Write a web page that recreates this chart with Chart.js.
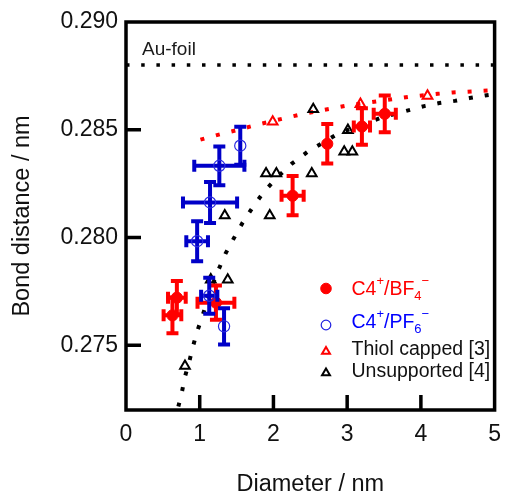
<!DOCTYPE html>
<html>
<head>
<meta charset="utf-8">
<script src="https://cdn.jsdelivr.net/npm/chart.js@4.4.0/dist/chart.umd.min.js"></script>
<style>
  body { margin: 0; background: #fff; }
</style>
</head>
<body>
<canvas id="myChart" width="512" height="494"></canvas>
<script>
// values

// C4+/BF4- (filled red circles)
var bf4_x     = [0.63, 0.69, 1.22, 2.26, 2.73, 3.20, 3.51];
var bf4_y     = [0.27639, 0.27721, 0.27698, 0.28194, 0.28435, 0.28515, 0.28574];
var bf4_x_err = [0.12, 0.12, 0.25, 0.15, 0, 0.11, 0.15];
var bf4_y_err = [0.00083, 0.00077, 0.00079, 0.00091, 0.00092, 0.00085, 0.00085];

// C4+/PF6- (open blue circles)
var pf6_x     = [1.55, 1.266, 1.14, 0.965, 1.129, 1.33];
var pf6_y     = [0.28426, 0.28333, 0.28163, 0.27983, 0.27730, 0.27588];
var pf6_x_err = [0, 0.34, 0.367, 0.147, 0.11, 0];
var pf6_y_err = [0.00088, 0.0009, 0.00095, 0.00093, 0.00084, 0.00084];

// Thiol capped [3]
var thiol_x = [1.99, 3.18, 4.09];
var thiol_y = [0.28537, 0.28619, 0.28657];

// Unsupported [4]
var unsup_x = [0.80, 1.15, 1.34, 1.38, 1.90, 1.95, 2.04, 2.52, 2.54, 2.96, 3.07, 3.01];
var unsup_y = [0.27404, 0.27805, 0.28102, 0.27804, 0.28297, 0.28102, 0.28297, 0.28297, 0.28595, 0.28398, 0.28398, 0.28498];

// dotted guide curves
var red_fit_x = [1.01, 1.22, 1.43, 1.82, 2.23, 2.41, 2.81, 3.01, 3.64, 3.84, 4.23, 4.43, 4.84, 5.0];
var red_fit_y = [0.28454, 0.28474, 0.28492, 0.28527, 0.28560, 0.28574, 0.28600, 0.28613, 0.28643, 0.28653, 0.28667, 0.28673, 0.28681, 0.28684];

var black_fit_x = [0.71, 0.76, 0.80, 0.86, 0.91, 0.97, 1.04, 1.11, 1.18, 1.26, 1.35, 1.46, 1.58, 1.72, 1.87, 2.05,
                   2.25, 2.46, 2.66, 2.85, 3.05, 3.26, 3.47, 3.65, 3.86, 4.06, 4.25, 4.46, 4.66, 4.87, 5.0];
var black_fit_y = [0.27216, 0.27286, 0.27355, 0.27427, 0.27497, 0.27569, 0.27640, 0.27713, 0.27787, 0.27855, 0.27926,
                   0.27995, 0.28068, 0.28141, 0.28212, 0.28279, 0.28343, 0.28397, 0.28438, 0.28477, 0.28505, 0.28531,
                   0.28557, 0.28574, 0.28593, 0.28611, 0.28624, 0.28634, 0.28647, 0.28659, 0.28665];

// Au-foil reference
var au_x = [0, 5];
var au_y = [0.288, 0.288];

var x_ticks = [0, 1, 2, 3, 4, 5];
var y_ticks = [0.275, 0.280, 0.285, 0.290];

var FONT = '"Liberation Sans", Arial, Helvetica, sans-serif';

function pts(xs, ys) {
    return xs.map(function (v, i) { return {x: v, y: ys[i]}; });
}

// error bars, drawn just before the points of their dataset
var errorBars = {
    id: 'errorBars',
    beforeDatasetDraw: function (chart, args) {
        var ds = chart.data.datasets[args.index];
        if (!ds.xErr) return;
        var ctx = chart.ctx, sx = chart.scales.x, sy = chart.scales.y;
        var cap = 6;
        ctx.save();
        ctx.strokeStyle = ds.barColor;
        ctx.lineWidth = 4;
        ds.data.forEach(function (p, i) {
            var px = sx.getPixelForValue(p.x), py = sy.getPixelForValue(p.y);
            ctx.beginPath();
            if (ds.yErr[i]) {
                var t = sy.getPixelForValue(p.y + ds.yErr[i]);
                var b = sy.getPixelForValue(p.y - ds.yErr[i]);
                ctx.moveTo(px, t); ctx.lineTo(px, b);
                ctx.moveTo(px - cap, t); ctx.lineTo(px + cap, t);
                ctx.moveTo(px - cap, b); ctx.lineTo(px + cap, b);
            }
            if (ds.xErr[i]) {
                var l = sx.getPixelForValue(p.x - ds.xErr[i]);
                var r = sx.getPixelForValue(p.x + ds.xErr[i]);
                ctx.moveTo(l, py); ctx.lineTo(r, py);
                ctx.moveTo(l, py - cap); ctx.lineTo(l, py + cap);
                ctx.moveTo(r, py - cap); ctx.lineTo(r, py + cap);
            }
            ctx.stroke();
        });
        ctx.restore();
    }
};

// text with super/subscripts: parts = [[text, shift]] shift 1 = sup, -1 = sub
function richText(ctx, parts, x, y, color) {
    ctx.fillStyle = color;
    ctx.textBaseline = 'alphabetic';
    ctx.textAlign = 'left';
    parts.forEach(function (p) {
        var size = p[1] === 0 ? 19.5 : 13;
        var dy = p[1] === 1 ? -10 : (p[1] === -1 ? 5 : 0);
        ctx.font = size + 'px ' + FONT;
        ctx.fillText(p[0], x, y + dy);
        x += ctx.measureText(p[0]).width;
    });
}

// frame, inward ticks, Au-foil label and legend
var decorations = {
    id: 'decorations',
    afterDraw: function (chart) {
        var ctx = chart.ctx, a = chart.chartArea;
        var sx = chart.scales.x, sy = chart.scales.y;
        ctx.save();
        ctx.strokeStyle = '#000';
        ctx.lineWidth = 3.5;
        ctx.strokeRect(a.left, a.top, a.right - a.left, a.bottom - a.top);
        ctx.beginPath();
        x_ticks.forEach(function (v) {
            if (v === 0 || v === 5) return;
            var px = sx.getPixelForValue(v);
            ctx.moveTo(px, a.bottom); ctx.lineTo(px, a.bottom - 15);
        });
        y_ticks.forEach(function (v) {
            if (v === 0.290) return;
            var py = sy.getPixelForValue(v);
            ctx.moveTo(a.left, py); ctx.lineTo(a.left + 15, py);
        });
        ctx.stroke();

        ctx.fillStyle = '#1a1a1a';
        ctx.font = '19px ' + FONT;
        ctx.fillText('Au-foil', 142, 55);

        var mx = 326;
        var H = Chart.helpers;
        ctx.lineWidth = 1;
        ctx.fillStyle = '#ff0000'; ctx.strokeStyle = '#ff0000';
        H.drawPoint(ctx, {pointStyle: 'circle', radius: 5.3, rotation: 0, borderWidth: 1}, mx, 288.5);
        ctx.fillStyle = 'rgba(0,0,0,0)'; ctx.strokeStyle = '#2020e0'; ctx.lineWidth = 1.2;
        H.drawPoint(ctx, {pointStyle: 'circle', radius: 4.8, rotation: 0, borderWidth: 1.2}, mx, 325);
        ctx.strokeStyle = '#ff0000'; ctx.lineWidth = 2;
        H.drawPoint(ctx, {pointStyle: 'triangle', radius: 4.6, rotation: 0, borderWidth: 2}, mx, 351.5);
        ctx.strokeStyle = '#000';
        H.drawPoint(ctx, {pointStyle: 'triangle', radius: 4.6, rotation: 0, borderWidth: 2}, mx, 373);

        richText(ctx, [['C4', 0], ['+', 1], ['/BF', 0], ['4', -1], ['\u2212', 1]], 351.5, 295, '#ff0000');
        richText(ctx, [['C4', 0], ['+', 1], ['/PF', 0], ['6', -1], ['\u2212', 1]], 351.5, 327.5, '#0000ff');
        richText(ctx, [['Thiol capped [3]', 0]], 351.5, 355, '#111');
        richText(ctx, [['Unsupported [4]', 0]], 351.5, 377, '#111');
        ctx.restore();
    }
};

var ctx = document.getElementById('myChart').getContext('2d');
var myChart = new Chart(ctx, {
    type: 'scatter',
    data: {
        datasets: [{
            label: 'C4+/PF6-',
            data: pts(pf6_x, pf6_y),
            xErr: pf6_x_err,
            yErr: pf6_y_err,
            barColor: '#0000c8',
            pointStyle: 'circle',
            pointRadius: 5.6,
            pointBackgroundColor: 'rgba(0,0,0,0)',
            pointBorderColor: '#2a2ae0',
            pointBorderWidth: 1.2
        }, {
            label: 'C4+/BF4-',
            data: pts(bf4_x, bf4_y),
            xErr: bf4_x_err,
            yErr: bf4_y_err,
            barColor: '#ff0000',
            pointStyle: 'circle',
            pointRadius: 5.6,
            pointBackgroundColor: '#ff0000',
            pointBorderColor: '#ff0000',
            pointBorderWidth: 1
        }, {
            label: 'Thiol capped [3]',
            data: pts(thiol_x, thiol_y),
            pointStyle: 'triangle',
            pointRadius: 5.6,
            pointBackgroundColor: 'rgba(0,0,0,0)',
            pointBorderColor: '#ff0000',
            pointBorderWidth: 2
        }, {
            label: 'Unsupported [4]',
            data: pts(unsup_x, unsup_y),
            pointStyle: 'triangle',
            pointRadius: 5.6,
            pointBackgroundColor: 'rgba(0,0,0,0)',
            pointBorderColor: '#000',
            pointBorderWidth: 2
        }, {
            label: 'thiol fit',
            data: pts(red_fit_x, red_fit_y),
            showLine: true,
            pointRadius: 0,
            borderColor: '#ff0000',
            borderWidth: 4,
            borderDash: [4, 12]
        }, {
            label: 'unsupported fit',
            data: pts(black_fit_x, black_fit_y),
            showLine: true,
            pointRadius: 0,
            borderColor: '#000',
            borderWidth: 4,
            borderDash: [4, 12]
        }, {
            label: 'Au-foil',
            data: pts(au_x, au_y),
            showLine: true,
            pointRadius: 0,
            borderColor: '#000',
            borderWidth: 3.5,
            borderDash: [3.5, 11.7]
        }]
    },
    options: {
        responsive: false,
        animation: false,
        devicePixelRatio: 1,
        events: [],
        layout: { padding: { top: 22, right: 7, left: 0, bottom: 0 } },
        plugins: {
            legend: { display: false },
            tooltip: { enabled: false }
        },
        scales: {
            x: {
                type: 'linear',
                min: 0,
                max: 5,
                afterFit: function (s) { s.height = 84; },
                afterBuildTicks: function (s) { s.ticks = x_ticks.map(function (v) { return {value: v}; }); },
                grid: { display: false, drawTicks: false },
                border: { display: false },
                ticks: {
                    padding: 11,
                    color: '#111',
                    font: { family: FONT, size: 23 },
                    callback: function (v) { return String(v); }
                },
                title: {
                    display: true,
                    text: 'Diameter / nm',
                    color: '#111',
                    font: { family: FONT, size: 23.5, lineHeight: 0.81 },
                    padding: { top: 0, bottom: 0 }
                }
            },
            y: {
                type: 'linear',
                min: 0.272,
                max: 0.290,
                afterFit: function (s) { s.width = 126; },
                afterBuildTicks: function (s) { s.ticks = y_ticks.map(function (v) { return {value: v}; }); },
                grid: { display: false, drawTicks: false },
                border: { display: false },
                ticks: {
                    padding: 8,
                    color: '#111',
                    font: { family: FONT, size: 23 },
                    callback: function (v) { return v.toFixed(3); }
                },
                title: {
                    display: true,
                    text: 'Bond distance / nm',
                    color: '#111',
                    font: { family: FONT, size: 23.5 },
                    padding: { top: 8.4, bottom: 0 }
                }
            }
        }
    },
    plugins: [errorBars, decorations]
});
</script>
</body>
</html>
